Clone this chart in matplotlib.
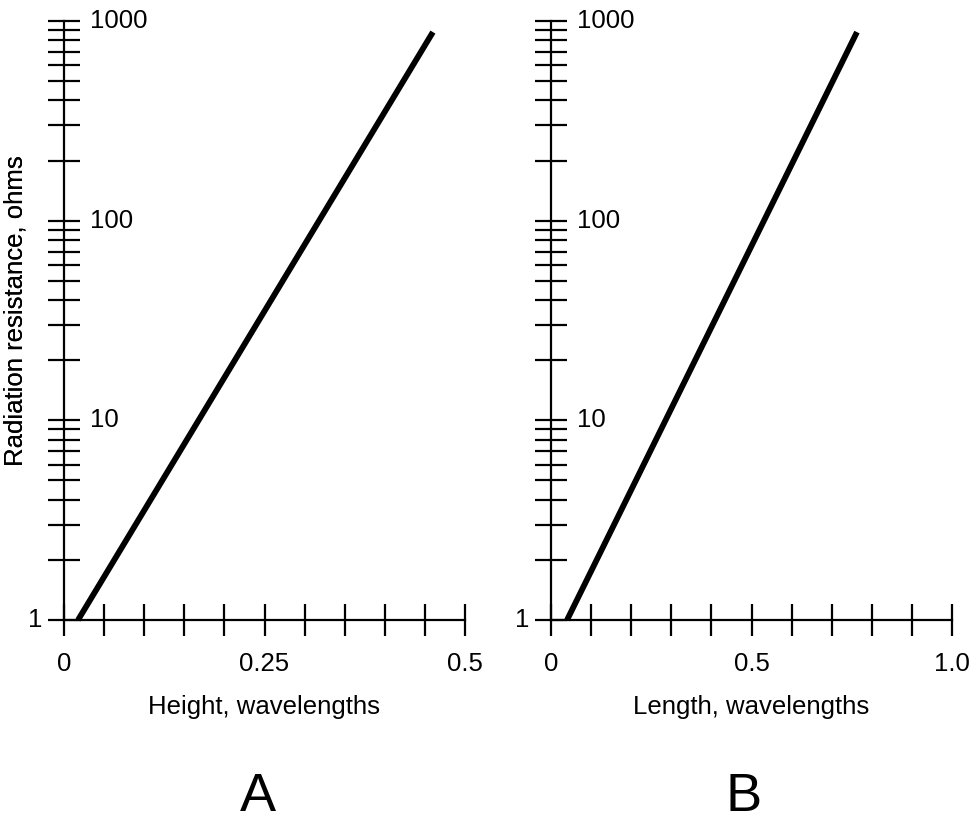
import matplotlib.pyplot as plt
import matplotlib.transforms as mtransforms
from matplotlib.ticker import LogLocator, NullFormatter, FixedLocator

# data
height_wl = [0.0175, 0.46]
height_ohms = [1, 880]
length_wl = [0.04, 0.763]
length_ohms = [1, 880]

y_labels = ['1', '10', '100', '1000']
y_label_vals = [1, 10, 100, 1000]
a_ticks = [0.05 * i for i in range(11)]
a_labels = {0: '0', 0.25: '0.25', 0.5: '0.5'}
b_ticks = [0.1 * i for i in range(11)]
b_labels = {0: '0', 0.5: '0.5', 1.0: '1.0'}

plt.rcParams['font.family'] = ['Liberation Sans', 'DejaVu Sans']
FS = 18.5

fig = plt.figure(figsize=(9.76, 8.21), dpi=100)
W, H = 976, 821


def make_axes(left_px, xmax, ticks, labels, xs, ys, xlabel, letter, letter_x):
    ax = fig.add_axes([left_px / W, 1 - 620 / H, 401 / W, 599 / H])
    ax.set_yscale('log')
    ax.set_xlim(0, xmax)
    ax.set_ylim(1, 1000)
    for s in ['top', 'right']:
        ax.spines[s].set_visible(False)
    for s in ['left', 'bottom']:
        ax.spines[s].set_linewidth(1.6)
    ax.plot(xs, ys, color='black', lw=4.2, solid_capstyle='butt', clip_on=False)

    ax.yaxis.set_major_locator(FixedLocator(y_label_vals))
    ax.yaxis.set_minor_locator(LogLocator(base=10, subs=range(2, 10)))
    ax.yaxis.set_major_formatter(NullFormatter())
    ax.yaxis.set_minor_formatter(NullFormatter())
    ax.xaxis.set_major_locator(FixedLocator(ticks))
    ax.xaxis.set_major_formatter(NullFormatter())
    ax.tick_params(axis='both', which='both', direction='inout', length=23,
                   width=1.6, color='black')

    ytr = ax.get_yaxis_transform()
    for v, t in zip(y_label_vals, y_labels):
        if v == 1:
            off = mtransforms.ScaledTranslation(-22 / 100, 0, fig.dpi_scale_trans)
            ax.text(0, v, t, transform=ytr + off, ha='right', va='center', fontsize=FS)
        else:
            off = mtransforms.ScaledTranslation(26 / 100, 0, fig.dpi_scale_trans)
            ax.text(0, v, t, transform=ytr + off, ha='left', va='center', fontsize=FS)

    xtr = ax.get_xaxis_transform()
    off = mtransforms.ScaledTranslation(0, -32 / 100, fig.dpi_scale_trans)
    for v, t in labels.items():
        ax.text(v, 0, t, transform=xtr + off, ha='center', va='top', fontsize=FS)

    ax.set_ylabel('Radiation resistance, ohms', fontsize=FS)
    ax.yaxis.set_label_coords(-(left_px - 28) / 401, 0.516)
    ax.set_xlabel(xlabel, fontsize=FS)
    ax.xaxis.set_label_coords(0.5, -(707 - 620) / 599)
    ax.xaxis.label.set_va('center')
    fig.text(letter_x / W, 1 - 797 / H, letter, fontsize=39, ha='center', va='center')
    return ax


make_axes(64, 0.5, a_ticks, a_labels, height_wl, height_ohms,
          'Height, wavelengths', 'A', 258)
make_axes(551, 1.0, b_ticks, b_labels, length_wl, length_ohms,
          'Length, wavelengths', 'B', 744)

fig.savefig('out.png', dpi=100)
